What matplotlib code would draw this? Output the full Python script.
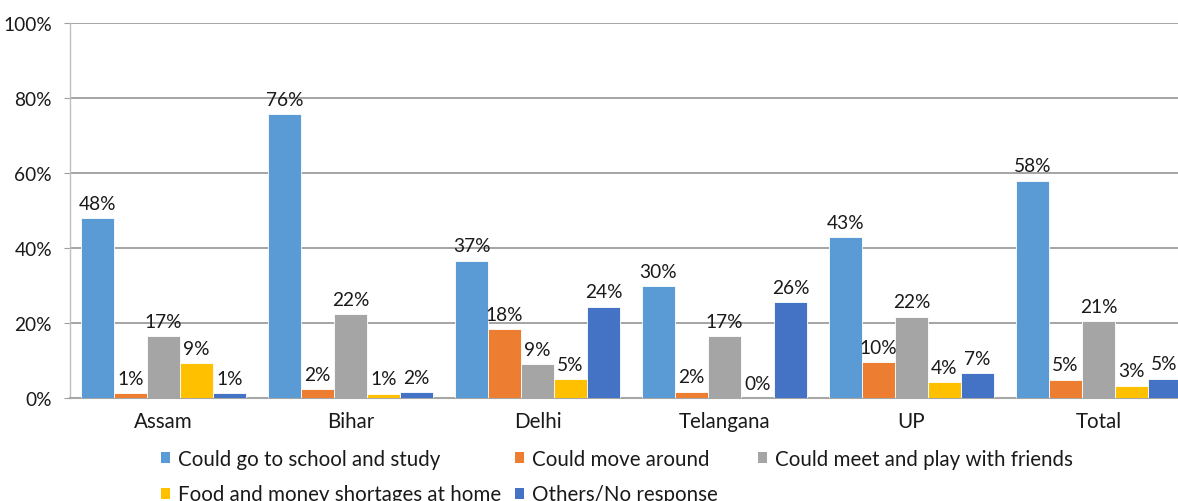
import matplotlib
matplotlib.use("Agg")
import matplotlib.pyplot as plt
from matplotlib.patches import Patch
import numpy as np

plt.rcParams['font.family'] = ['Lato', 'DejaVu Sans']

categories = ["Assam", "Bihar", "Delhi", "Telangana", "UP", "Total"]
series_names = ["Could go to school and study", "Could move around",
                "Could meet and play with friends", "Food and money shortages at home",
                "Others/No response"]
school = [48.0, 75.8, 36.7, 29.9, 42.9, 58.0]
move = [1.4, 2.4, 18.4, 1.7, 9.6, 4.9]
friends = [16.6, 22.4, 9.1, 16.6, 21.8, 20.6]
food = [9.4, 1.2, 5.1, 0.0, 4.3, 3.4]
others = [1.3, 1.6, 24.4, 25.6, 6.7, 5.2]
yticks = [0, 20, 40, 60, 80, 100]
ytick_labels = ["0%", "20%", "40%", "60%", "80%", "100%"]

colors = ["#5B9BD5", "#ED7D31", "#A5A5A5", "#FFC000", "#4472C4"]
data = [school, move, friends, food, others]

W, H = 1178, 502
fig = plt.figure(figsize=(W / 100, H / 100), dpi=100)
ax = fig.add_axes([70 / W, (H - 399.3) / H, 1122 / W, 375 / H])

x = np.arange(len(categories))
bw = 1 / (5 + 0.67)
fs_num = 13.8
fs_txt = 14.8
for j, (vals, c) in enumerate(zip(data, colors)):
    pos = x + (j - 2) * bw
    ax.bar(pos, vals, width=bw, color=c, edgecolor='white', linewidth=0.6, zorder=3)
    for xp, v in zip(pos, vals):
        ax.annotate(f"{v:.0f}%", (xp, v), xytext=(0, 10.8), textcoords='offset points',
                    ha='center', va='center', fontsize=fs_num, color='#1a1a1a', zorder=4)

ax.set_xlim(-0.5, len(categories) - 0.5)
ax.set_ylim(0, 100)
ax.set_yticks(yticks)
ax.set_yticklabels(ytick_labels, fontsize=fs_num, color='#1a1a1a')
ax.set_xticks(x)
ax.set_xticklabels(categories, fontsize=fs_txt, color='#1a1a1a')
ax.tick_params(axis='x', length=0, pad=9)
ax.tick_params(axis='y', length=4, color='#a0a0a0', pad=9)
ax.grid(axis='y', color='#8c8c8c', linewidth=1.1, zorder=0)
ax.set_axisbelow(True)
for s in ['top', 'right']:
    ax.spines[s].set_visible(False)
ax.spines['left'].set_color('#bfbfbf')
ax.spines['left'].set_linewidth(1.0)
ax.spines['bottom'].set_color('#a6a6a6')
ax.spines['bottom'].set_linewidth(1.5)

handles = [Patch(facecolor=c, edgecolor='none') for c in colors]
cols = [([0, 3], 161), ([1, 4], 515), ([2], 757.5)]
for idxs, xpx in cols:
    leg = fig.legend([handles[i] for i in idxs], [series_names[i] for i in idxs],
                     loc='upper left', bbox_to_anchor=(xpx / W, (H - 450) / H),
                     frameon=False, fontsize=fs_txt, handlelength=0.45, handleheight=0.45,
                     handletextpad=0.4, borderpad=0, borderaxespad=0, labelspacing=0.75)
    for t in leg.get_texts():
        t.set_color('#1a1a1a')

fig.savefig("out.png", dpi=100)
